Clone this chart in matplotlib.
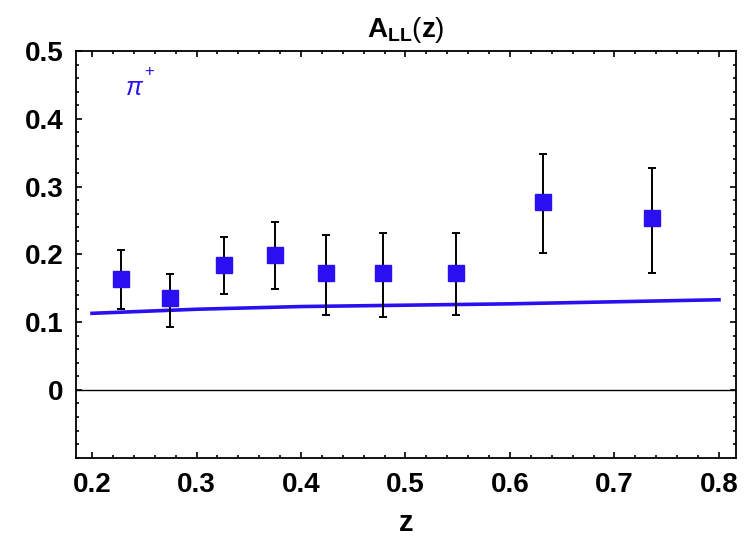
import numpy as np
import matplotlib
matplotlib.use("Agg")
import matplotlib.pyplot as plt
from matplotlib.ticker import MultipleLocator

plt.rcParams['font.family'] = ['Liberation Sans', 'DejaVu Sans']
plt.rcParams['mathtext.fontset'] = 'custom'
plt.rcParams['mathtext.rm'] = 'Liberation Sans'
plt.rcParams['mathtext.bf'] = 'Liberation Sans:bold'
plt.rcParams['mathtext.it'] = 'Liberation Sans:italic'

# measured points (pi+)
z_data = [0.228, 0.275, 0.326, 0.375, 0.424, 0.478, 0.548, 0.632, 0.736]
a_data = [0.164, 0.135, 0.184, 0.199, 0.173, 0.172, 0.173, 0.277, 0.253]
err_up = [0.042, 0.036, 0.042, 0.048, 0.056, 0.060, 0.059, 0.071, 0.074]
err_lo = [0.045, 0.042, 0.042, 0.050, 0.063, 0.065, 0.063, 0.075, 0.080]

# theory curve
z_curve = [0.20, 0.30, 0.40, 0.50, 0.60, 0.70, 0.80]
a_curve = [0.113, 0.119, 0.123, 0.125, 0.127, 0.130, 0.133]

x_ticks = [0.2, 0.3, 0.4, 0.5, 0.6, 0.7, 0.8]
x_labels = ['0.2', '0.3', '0.4', '0.5', '0.6', '0.7', '0.8']
y_ticks = [0, 0.1, 0.2, 0.3, 0.4, 0.5]
y_labels = ['0', '0.1', '0.2', '0.3', '0.4', '0.5']

blue = '#2a10f0'

fig = plt.figure(figsize=(7.46, 5.41), dpi=100)
ax = fig.add_axes([0.1019, 0.154, 0.8843, 0.7517])

ax.axhline(0, color='black', lw=1.0, zorder=1)
ax.plot(z_curve, a_curve, color=blue, lw=2.6, zorder=2)
ax.errorbar(z_data, a_data, yerr=[err_lo, err_up], fmt='none', ecolor='black',
            elinewidth=1.4, capsize=3, capthick=1.4, zorder=3)
ax.plot(z_data, a_data, 's', color=blue, markersize=11, zorder=4)

# pi+ label
ax.text(0.232, 0.446, r'$\pi$', color=blue, fontsize=18, ha='left', va='center')
ax.text(0.250, 0.470, '+', color=blue, fontsize=12, ha='left', va='center')

ax.set_xlim(0.1847, 0.816)
ax.set_ylim(-0.1, 0.5)
ax.set_xticks(x_ticks)
ax.set_xticklabels(x_labels)
ax.set_yticks(y_ticks)
ax.set_yticklabels(y_labels)
ax.xaxis.set_minor_locator(MultipleLocator(0.02))
ax.yaxis.set_minor_locator(MultipleLocator(0.02))

ax.tick_params(which='both', direction='in', top=True, right=True, width=1.2)
ax.tick_params(which='major', length=4.5)
ax.tick_params(which='minor', length=2.5)
ax.tick_params(axis='x', which='major', labelsize=20, pad=10)
ax.tick_params(axis='y', which='major', labelsize=20, pad=9)
for lab in ax.get_xticklabels() + ax.get_yticklabels():
    lab.set_fontweight('bold')
for sp in ax.spines.values():
    sp.set_linewidth(1.3)

ax.set_title(r'$\mathbf{A}_{\mathbf{LL}}\mathrm{(}\mathbf{z}\mathrm{)}$', fontsize=20, pad=10)
ax.set_xlabel('z', fontsize=21, fontweight='bold', labelpad=8)

fig.savefig('out.png', dpi=100)
